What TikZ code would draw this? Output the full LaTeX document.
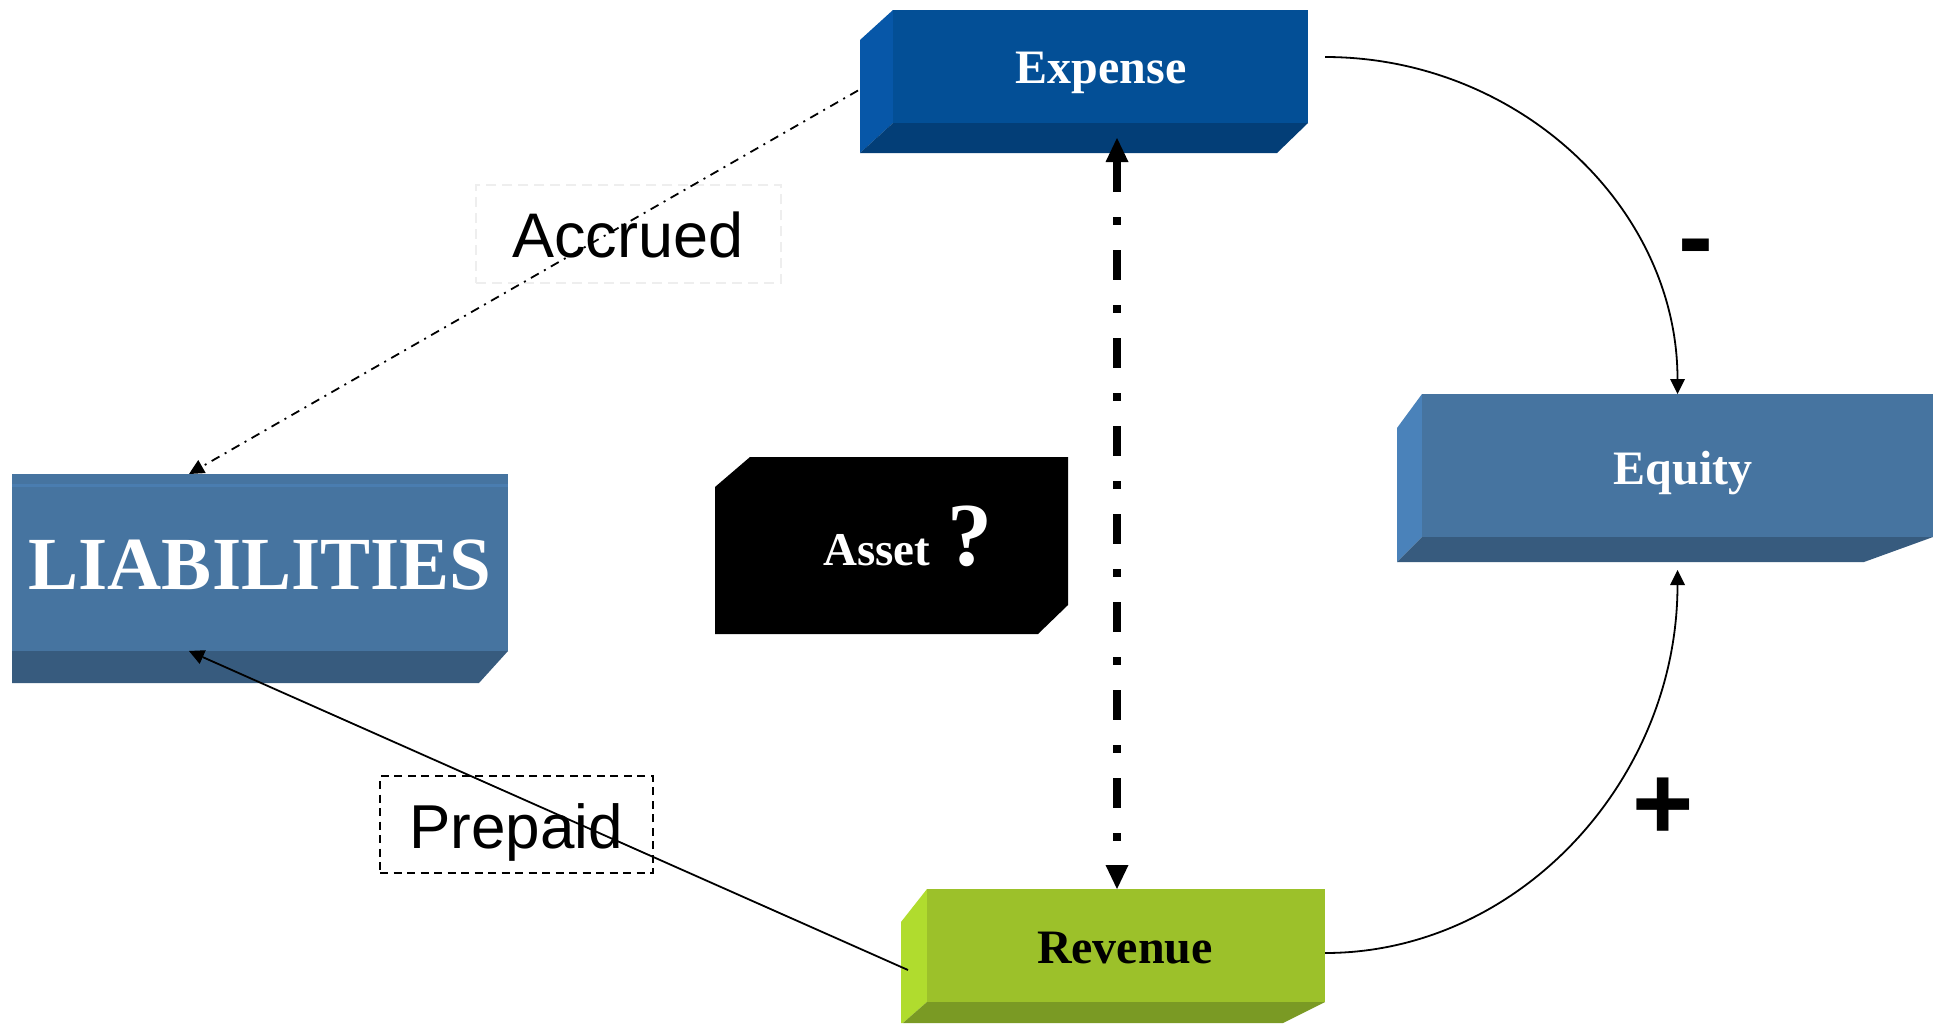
\documentclass[tikz,border=0pt]{standalone}
\usepackage{fontspec}
\setmainfont{Liberation Serif}
\newfontfamily\arialfont{Liberation Sans}
\usetikzlibrary{arrows.meta,calc}
\definecolor{expF}{HTML}{034F96}
\definecolor{expL}{HTML}{0757A8}
\definecolor{expB}{HTML}{033E77}
\definecolor{blF}{HTML}{4674A0}
\definecolor{blL}{HTML}{4A82BA}
\definecolor{blB}{HTML}{375B7E}
\definecolor{blS}{HTML}{4A7DB0}
\definecolor{revF}{HTML}{9CC12A}
\definecolor{revL}{HTML}{B0DC2E}
\definecolor{revB}{HTML}{7A9A24}
\definecolor{accGray}{HTML}{EEEEEE}
\begin{document}
\begin{tikzpicture}[x=1pt,y=-1pt,
  face/.style={inner sep=0pt,outer sep=0pt},
  boxlbl/.style={inner sep=0pt,outer sep=0pt,anchor=base,text=white,font=\fontsize{48}{48}\selectfont\bfseries},
  sanslbl/.style={inner sep=0pt,outer sep=0pt,anchor=base,font=\arialfont\fontsize{63}{63}\selectfont},
  signlbl/.style={inner sep=0pt,outer sep=0pt,anchor=base,font=\arialfont\bfseries\fontsize{105}{105}\selectfont},
  thinln/.style={line width=1.8pt},
  smalltip/.style={-{Triangle[length=15pt,width=15pt,line width=0pt]}},
  bigtip/.style={{Triangle[length=24pt,width=23pt,line width=0pt]}-{Triangle[length=24pt,width=23pt,line width=0pt]}}
]
\useasboundingbox (0,0) rectangle (1936,1023);
\fill[white] (0,0) rectangle (1936,1023);

% Expense
\fill[expL] (860,40) -- (893,10) -- (893,123) -- (860,153) -- cycle;
\fill[expF] (893,10) rectangle (1308,123);
\fill[expB] (860,153) -- (893,123) -- (1308,123) -- (1277,153) -- cycle;
\node[face,minimum width=415pt,minimum height=113pt] (exp) at (1100.5,66.5) {};

% LIABILITIES
\fill[blF] (12,474) rectangle (508,651);
\fill[blS] (12,484) rectangle (508,487);
\fill[blB] (12,651) -- (508,651) -- (479,683) -- (12,683) -- cycle;
\node[face,minimum width=496pt,minimum height=177pt] (liab) at (260,562.5) {};

% Equity
\fill[blL] (1397,428) -- (1422,394) -- (1422,537) -- (1397,562) -- cycle;
\fill[blF] (1422,394) rectangle (1933,537);
\fill[blB] (1397,562) -- (1422,537) -- (1933,537) -- (1864,562) -- cycle;
\node[face,minimum width=511pt,minimum height=143pt] (eq) at (1677.5,465.5) {};

% Revenue
\fill[revL] (901,922) -- (927,889) -- (927,1002) -- (903,1023) -- (901,1023) -- cycle;
\fill[revF] (927,889) rectangle (1325,1002);
\fill[revB] (903,1023) -- (927,1002) -- (1325,1002) -- (1283,1023) -- cycle;
\node[face,minimum width=398pt,minimum height=113pt] (rev) at (1126,945.5) {};

% Asset
\fill[black] (715,487) -- (750,457) -- (1068,457) -- (1068,605) -- (1038,634) -- (715,634) -- cycle;
\node[face,minimum width=353pt,minimum height=177pt] (asset) at (891.5,545.5) {};

% box texts
\node[boxlbl] (expT) at (1101,83) {Expense};
\node[boxlbl] (eqT) at (1683,484) {Equity};
\node[boxlbl,text=black] (revT) at (1125,963) {Revenue};
\node[boxlbl,font=\fontsize{75}{75}\selectfont\bfseries] (liabT) at (260,589) {LIABILITIES};
\node[boxlbl,font=\fontsize{47}{47}\selectfont\bfseries] (assetT) at (877,565) {Asset};
\node[boxlbl,font=\fontsize{90}{90}\selectfont\bfseries] (qT) at (970,565) {?};

% label boxes
\node[face,draw=accGray,line width=1.5pt,dash pattern=on 10pt off 6pt,minimum width=305pt,minimum height=98pt] (accBox) at (628.5,234) {};
\node[sanslbl] (accT) at (628,257) {Accrued};
\node[face,draw=black,line width=1.8pt,dash pattern=on 8pt off 5.5pt,minimum width=273pt,minimum height=97pt] (preBox) at (516.5,824.5) {};
\node[sanslbl,font=\arialfont\fontsize{62}{62}\selectfont] (preT) at (516,848) {Prepaid};

% signs
\node[signlbl] (minus) at (1696,272) {-};
\node[signlbl] (plus) at (1663,839) {+};

% connectors
\draw[thinln,dash pattern=on 9pt off 6pt on 2pt off 6pt,smalltip] ([xshift=-35pt,yshift=-24pt]exp.west) -- ([xshift=-71pt]liab.north);
\draw[thinln,smalltip] ([xshift=-19pt,yshift=-24.5pt]rev.west) -- ([xshift=-71pt]liab.south);
\draw[line width=7.5pt,dash pattern=on 30pt off 25pt on 8pt off 25pt,bigtip] ([xshift=16.5pt,yshift=-15pt]exp.south) -- ([xshift=-9pt]rev.north);
\draw[thinln,smalltip] ([xshift=17pt,yshift=9.5pt]exp.east) .. controls +(194,0) and +(0,-186) .. (eq.north);
\draw[thinln,smalltip] ([yshift=-7.5pt]rev.east) .. controls +(194,0) and +(0,210) .. ([yshift=-33pt]eq.south);
\end{tikzpicture}
\end{document}
